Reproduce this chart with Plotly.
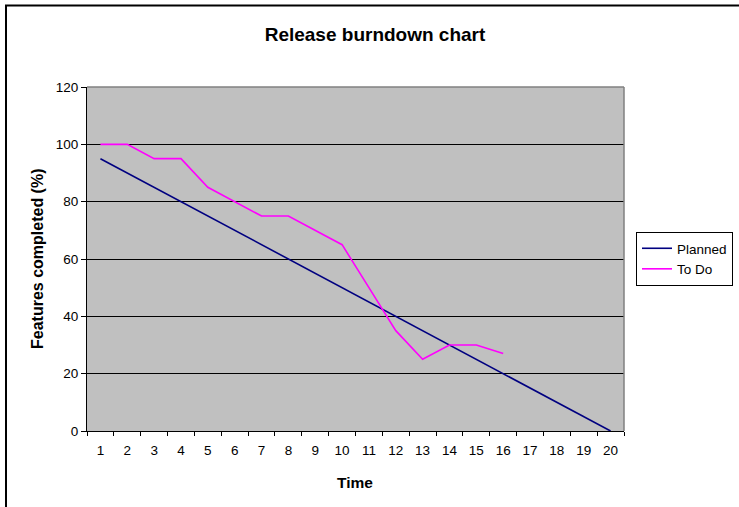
import plotly.graph_objects as go

time_labels = [str(i) for i in range(1, 21)]
planned = [95, 90, 85, 80, 75, 70, 65, 60, 55, 50, 45, 40, 35, 30, 25, 20, 15, 10, 5, 0]
todo_labels = time_labels[:16]
todo = [100, 100, 95, 95, 85, 80, 75, 75, 70, 65, 50, 35, 25, 30, 30, 27]
y_ticks = [0, 20, 40, 60, 80, 100, 120]

W, H = 739, 507
L, R, T, B = 87, 624, 87, 431
pw, ph = R - L, B - T


def px(x):
    return (x - L) / pw


def py(y):
    return (B - y) / ph


fig = go.Figure()
fig.add_trace(go.Scatter(x=time_labels, y=planned, mode="lines", name="Planned",
                         line=dict(color="#000080", width=1.6)))
fig.add_trace(go.Scatter(x=todo_labels, y=todo, mode="lines", name="To Do",
                         line=dict(color="#FF00FF", width=1.6)))

font = "Liberation Sans, Arial, sans-serif"
fig.update_layout(
    width=W, height=H,
    margin=dict(l=L, r=W - R, t=T, b=H - B, pad=0, autoexpand=False),
    paper_bgcolor="white", plot_bgcolor="#C0C0C0",
    font=dict(family=font, size=13, color="black"),
    showlegend=True,
    legend=dict(x=px(636), y=py(232), xanchor="left", yanchor="top",
                bgcolor="white", bordercolor="black", borderwidth=1,
                font=dict(size=13.5), itemwidth=30, tracegroupgap=0),
    title=dict(text="<b>Release burndown chart</b>", x=375 / W, xref="container",
               xanchor="center", y=1 - 34 / H, yref="container", yanchor="middle",
               font=dict(size=19, family=font)),
)
fig.update_xaxes(type="category", categoryorder="array", categoryarray=time_labels,
                 tickson="boundaries", ticks="outside", ticklen=4, tickcolor="black",
                 showline=True, linecolor="black", linewidth=1, showgrid=False,
                 range=[-0.5, 19.5], tickfont=dict(size=13.5), zeroline=False,
                 ticklabelstandoff=7)
fig.update_yaxes(range=[0, 120], tickvals=y_ticks, ticks="outside", ticklen=5,
                 tickcolor="black", showline=True, linecolor="black", linewidth=1,
                 showgrid=True, gridcolor="black", gridwidth=1, zeroline=False,
                 tickfont=dict(size=13.5))

# plot area border (gray, top and right edges)
fig.add_shape(type="line", xref="paper", yref="paper", x0=0, y0=1, x1=1, y1=1,
              line=dict(color="#808080", width=1.5), layer="above")
fig.add_shape(type="line", xref="paper", yref="paper", x0=1, y0=0, x1=1, y1=1,
              line=dict(color="#808080", width=1.5), layer="above")
# outer chart border
fig.add_shape(type="rect", xref="paper", yref="paper",
              x0=px(6), y0=-2, x1=3, y1=py(5.5),
              line=dict(color="black", width=2))

fig.add_annotation(text="<b>Time</b>", xref="paper", yref="paper",
                   x=px(355), y=py(482), showarrow=False,
                   font=dict(size=15.5, family=font), xanchor="center", yanchor="middle")
fig.add_annotation(text="<b>Features completed (%)</b>", xref="paper", yref="paper",
                   x=px(37), y=py(259), showarrow=False, textangle=-90,
                   font=dict(size=16, family=font), xanchor="center", yanchor="middle")

fig.write_html("out.html",
               config={"displayModeBar": False},
               post_script="document.body.style.margin='0';document.body.style.overflow='hidden';")
